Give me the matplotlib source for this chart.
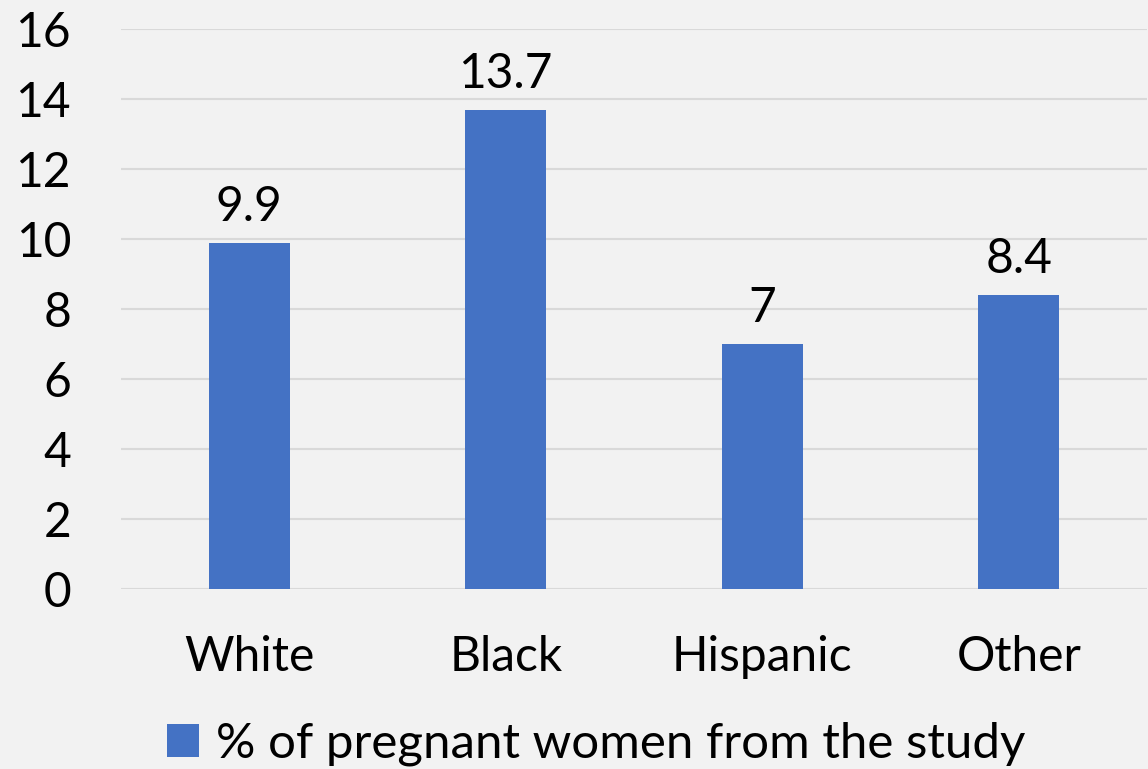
import matplotlib.pyplot as plt

categories = ['White', 'Black', 'Hispanic', 'Other']
values = [9.9, 13.7, 7, 8.4]
series_name = '% of pregnant women from the study'
yticks = [0, 2, 4, 6, 8, 10, 12, 14, 16]

bg = '#F2F2F2'
bar_color = '#4472C4'
fs = 34.5

plt.rcParams['font.family'] = ['Lato', 'DejaVu Sans']

W, H = 1148, 769
fig = plt.figure(figsize=(W / 100, H / 100), dpi=100, facecolor=bg)
ax = fig.add_axes([121 / W, (H - 589) / H, (1147 - 121) / W, (589 - 29) / H])
ax.set_facecolor(bg)

bars = ax.bar(range(len(categories)), values, width=0.316, color=bar_color,
              label=series_name, zorder=3)
ax.bar_label(bars, labels=[f'{v:g}' for v in values], padding=10, fontsize=fs)

ax.set_xlim(-0.5, len(categories) - 0.5)
ax.set_ylim(0, 16)
ax.set_yticks(yticks)
ax.set_xticks(range(len(categories)))
ax.set_xticklabels(categories)
ax.grid(axis='y', color='#D9D9D9', linewidth=1.5, zorder=0)
ax.tick_params(axis='y', length=0, pad=36, labelsize=fs)
ax.tick_params(axis='x', length=0, pad=33, labelsize=fs)
for s in ax.spines.values():
    s.set_visible(False)

fig.legend(loc='center', bbox_to_anchor=(596 / W, 1 - 744 / H), frameon=False,
           fontsize=35.5, handlelength=0.66, handleheight=0.66, handletextpad=0.33,
           borderpad=0)

fig.savefig('out.png', dpi=100, facecolor=bg)
